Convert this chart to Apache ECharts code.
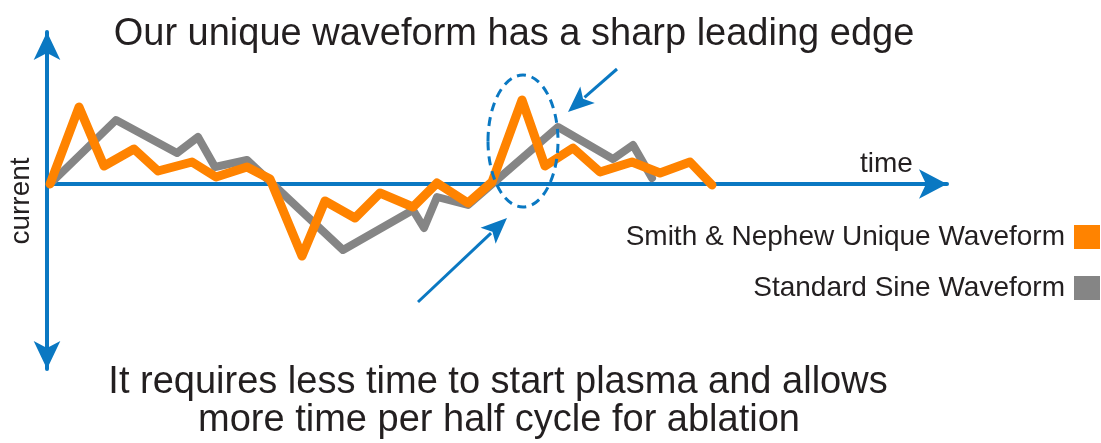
<!DOCTYPE html>
<html>
<head>
<meta charset="utf-8">
<title>Waveform comparison</title>
<script src="https://cdn.jsdelivr.net/npm/echarts@6/dist/echarts.min.js"></script>
<style>
  html, body { margin: 0; padding: 0; background: #ffffff; }
  #chart { width: 1101px; height: 443px; }
</style>
</head>
<body>
<div id="chart"></div>
<script>
// Waveform points: [time, current]
const uniqueWave = [
    [0.3, 0], [3.2, 7.7], [5.7, 1.8], [8.7, 3.5], [11.1, 1.3], [14.5, 2.2],
    [16.9, 0.7], [20.0, 1.7], [22.3, 0.5], [25.5, -7.2], [27.8, -1.7],
    [30.8, -3.4], [33.3, -0.9], [36.6, -2.3], [39.0, 0.1], [42.1, -1.9],
    [44.5, 0.2], [47.5, 8.4], [49.8, 1.8], [52.6, 3.6], [55.3, 1.2],
    [58.5, 2.2], [61.3, 1.1], [64.3, 2.2], [66.5, -0.1]
];
const sineWave = [
    [0.3, 0], [6.9, 6.4], [13.0, 3.1], [15.1, 4.7], [16.8, 1.7], [20.0, 2.4],
    [29.6, -6.6], [36.6, -2.6], [37.7, -4.4], [39.0, -1.3], [42.1, -2.1],
    [51.1, 5.7], [56.6, 2.5], [58.6, 3.9], [60.5, 0.6]
];
const seriesNames = ['Smith & Nephew Unique Waveform', 'Standard Sine Waveform'];
const titleText = 'Our unique waveform has a sharp leading edge';
const noteLines = ['It requires less time to start plasma and allows', 'more time per half cycle for ablation'];

// annotation anchors in data units
const highlight = { cx: 47.6, cy: 4.3, rx: 3.5, ry: 6.6 };
const pointers = [
    { from: [57.0, 11.5], to: [52.1, 7.2] },
    { from: [37.1, -11.8], to: [46.0, -3.4] }
];

const BLUE = '#0a78c2';
const ORANGE = '#ff8300';
const GREY = '#858585';
const INK = '#231f20';
const FONT = '"Liberation Sans", "Open Sans", sans-serif';

const chart = echarts.init(document.getElementById('chart'));

const axisStyle = { color: BLUE, width: 4 };

chart.setOption({
    animation: false,
    backgroundColor: '#ffffff',
    grid: { left: 47, top: 32, width: 900, height: 337 },
    xAxis: {
        type: 'value',
        min: 0,
        max: 90,
        axisLine: { onZero: true, lineStyle: axisStyle, symbol: ['none', 'arrow'], symbolSize: [22, 28] },
        axisTick: { show: false },
        axisLabel: { show: false },
        splitLine: { show: false }
    },
    yAxis: {
        type: 'value',
        min: -18.5,
        max: 15.2,
        axisLine: { show: true, lineStyle: axisStyle, symbol: ['arrow', 'arrow'], symbolSize: [20, 28] },
        axisTick: { show: false },
        axisLabel: { show: false },
        splitLine: { show: false }
    },
    legend: {
        data: seriesNames,
        orient: 'vertical',
        right: 1,
        top: 223,
        align: 'right',
        icon: 'rect',
        itemWidth: 26,
        itemHeight: 24,
        itemGap: 23,
        padding: 0,
        selectedMode: false,
        textStyle: { color: INK, fontSize: 28, fontFamily: FONT, lineHeight: 24, padding: [0, 4, 0, 0] }
    },
    series: [
        {
            name: seriesNames[1],
            type: 'line',
            data: sineWave,
            symbol: 'none',
            color: GREY,
            lineStyle: { color: GREY, width: 8, cap: 'round', join: 'round' },
            z: 2
        },
        {
            name: seriesNames[0],
            type: 'line',
            data: uniqueWave,
            symbol: 'none',
            color: ORANGE,
            lineStyle: { color: ORANGE, width: 9, cap: 'round', join: 'round' },
            z: 3
        }
    ]
});

// annotations placed from data coordinates
const px = (p) => chart.convertToPixel({ gridIndex: 0 }, p);
const c = px([highlight.cx, highlight.cy]);
const e = px([highlight.cx + highlight.rx, highlight.cy + highlight.ry]);

const arrowGraphics = [];
pointers.forEach(a => {
    const f = px(a.from);
    const t = px(a.to);
    const dx = t[0] - f[0], dy = t[1] - f[1];
    const len = Math.sqrt(dx * dx + dy * dy);
    const ux = dx / len, uy = dy / len;
    const head = 26, half = 11;
    const bx = t[0] - ux * head, by = t[1] - uy * head;
    arrowGraphics.push({
        type: 'line',
        shape: { x1: f[0], y1: f[1], x2: bx + ux * 4, y2: by + uy * 4 },
        style: { stroke: BLUE, lineWidth: 3 },
        z: 10
    });
    arrowGraphics.push({
        type: 'polygon',
        shape: { points: [
            [t[0], t[1]],
            [bx - uy * half, by + ux * half],
            [bx + ux * 6, by + uy * 6],
            [bx + uy * half, by - ux * half]
        ] },
        style: { fill: BLUE },
        z: 10
    });
});

chart.setOption({
    graphic: [
        {
            type: 'text',
            x: 514, y: 35,
            style: { text: titleText, fill: INK, font: '38px ' + FONT, align: 'center', verticalAlign: 'middle' }
        },
        {
            type: 'text',
            x: 498, y: 383,
            style: { text: noteLines[0], fill: INK, font: '38px ' + FONT, align: 'center', verticalAlign: 'middle' }
        },
        {
            type: 'text',
            x: 499, y: 421,
            style: { text: noteLines[1], fill: INK, font: '38px ' + FONT, align: 'center', verticalAlign: 'middle' }
        },
        {
            type: 'text',
            x: 860, y: 164,
            style: { text: 'time', fill: INK, font: '28px ' + FONT, align: 'left', verticalAlign: 'middle' }
        },
        {
            type: 'text',
            x: 21, y: 201,
            rotation: Math.PI / 2,
            style: { text: 'current', fill: INK, font: '28px ' + FONT, align: 'center', verticalAlign: 'middle' }
        },
        {
            type: 'ellipse',
            shape: { cx: c[0], cy: c[1], rx: Math.abs(e[0] - c[0]), ry: Math.abs(e[1] - c[1]) },
            style: { fill: 'none', stroke: BLUE, lineWidth: 3, lineDash: [9, 6] },
            z: 10
        }
    ].concat(arrowGraphics)
});
</script>
</body>
</html>
